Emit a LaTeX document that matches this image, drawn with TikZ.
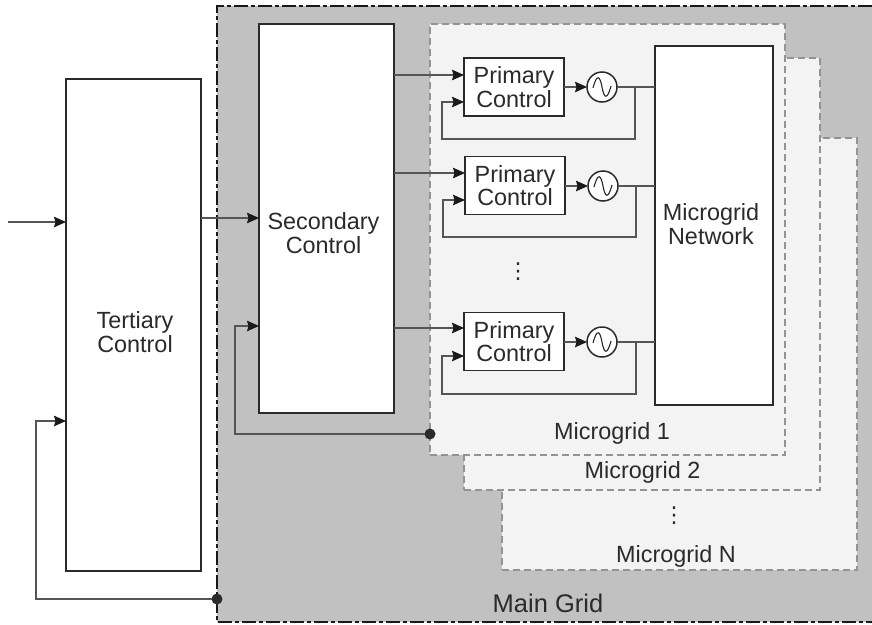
\documentclass[tikz,border=0pt]{standalone}
\usepackage{fontspec}
\setmainfont{Liberation Sans}
\newfontfamily\symfont{DejaVu Sans}
\usetikzlibrary{arrows.meta,calc}
\definecolor{gridgrey}{HTML}{C1C1C1}
\definecolor{mgfill}{HTML}{F3F3F3}
\definecolor{ink}{HTML}{2A2A2A}
\definecolor{wire}{HTML}{555555}
\definecolor{tipc}{HTML}{1A1A1A}
\tikzset{
  every node/.style={outer sep=0pt,inner sep=0pt,text=ink},
  lab/.style={font=\fontsize{23.4}{23.5}\selectfont,align=center},
  block/.style={draw=ink,line width=1.8pt,fill=white,lab},
  microgrid/.style={draw=gray!85,line width=1.2pt,dash pattern=on 7pt off 4pt,fill=mgfill},
  wirel/.style={draw=wire,line width=1.3pt},
  arr/.style={wirel,-{Stealth[inset=1.5pt,length=12pt,width=10.5pt,color=tipc]}},
  source/.style={circle,draw=ink,line width=1.5pt,fill=white,minimum size=30pt},
  dotn/.style={circle,fill=ink,minimum size=11pt},
  gridline/.style={draw=black!90,line width=2.4pt,dash pattern=on 14pt off 3pt on 4pt off 3pt},
  vd/.style={font=\symfont\fontsize{22}{22}\selectfont},
}
\newcommand{\wave}[1]{\draw[ink,line width=1.1pt] ($(#1)+(-9,1)$) .. controls ($(#1)+(-5,-14)$) and ($(#1)+(-2,-11)$) .. ($(#1)+(0,0)$) .. controls ($(#1)+(2,11)$) and ($(#1)+(5,14)$) .. ($(#1)+(9,-1)$);}
\begin{document}
\begin{tikzpicture}[x=1pt,y=-1pt]
\useasboundingbox (0,0) rectangle (872,624);
% main grid
\fill[gridgrey] (217,6) rectangle (872,622);
\coordinate (gridtl) at (872,6);
\coordinate (gridbl) at (217,622);
\draw[gridline] (gridtl) -- (217,6) -- (gridbl) -- (872,622);
% microgrids
\node[microgrid,minimum width=355pt,minimum height=432pt] (mgN) at (679.5,354) {};
\node[microgrid,minimum width=356pt,minimum height=432pt] (mg2) at (642,274) {};
\node[microgrid,minimum width=355pt,minimum height=431pt] (mg1) at (607.5,239.5) {};
% main blocks
\node[block,minimum width=135pt,minimum height=492pt] (ter) at (133.5,325) {};
\node[lab] (tertext) at (135,332) {Tertiary\\Control};
\node[block,minimum width=135pt,minimum height=389pt] (sec) at (326.5,218.5) {};
\node[lab] (sectext) at (323.5,233) {Secondary\\Control};
\node[block,minimum width=118pt,minimum height=359pt] (net) at (714,225.5) {};
\node[lab] (nettext) at (711,224) {Microgrid\\Network};
% primary controls
\node[block,minimum width=100pt,minimum height=58pt] (p1) at (514,87) {Primary\\Control};
\node[block,minimum width=100pt,minimum height=58pt] (p2) at (515,185.5) {Primary\\Control};
\node[block,minimum width=100pt,minimum height=58pt] (p3) at (514,341.5) {Primary\\Control};
\node[source] (s1) at (602,87) {};
\node[source] (s2) at (603,186) {};
\node[source] (s3) at (602,342) {};
\wave{s1}\wave{s2}\wave{s3}
% primary wiring
\foreach \n/\yin/\yfb/\xl/\xr/\yb/\ys in {1/75/102/442/635/139/87,2/173/200/443/636/237/186,3/328/356/442/636/394/342}{
  \coordinate (in\n) at (p\n.west |- 0,\yin);
  \coordinate (fb\n) at (p\n.west |- 0,\yfb);
  \coordinate (j\n) at (\xr,\ys);
  \draw[arr] (sec.east |- in\n) -- (in\n);
  \draw[arr] (p\n.east |- s\n) -- (s\n.west);
  \draw[wirel] (s\n.east) -- (net.west |- s\n);
  \draw[arr] (j\n) -- (\xr,\yb) -- (\xl,\yb) -- (\xl,\yfb) -- (fb\n);
}
% tertiary / secondary wiring
\coordinate (ext) at (8,222);
\draw[arr] (ext) -- (ter.west |- ext);
\coordinate (tsin) at (259,218);
\draw[arr] (ter.east |- tsin) -- (sec.west |- tsin);
\node[dotn] (d1) at (430,434) {};
\node[dotn] (d2) at (217,599) {};
\coordinate (secfb) at (sec.west |- 0,326);
\coordinate (terfb) at (ter.west |- 0,421);
\draw[arr] (d1) -- (235,434) -- (235,326) -- (secfb);
\draw[arr] (d2) -- (36,599) -- (36,421) -- (terfb);
% labels
\node[lab] (l1) at (612,433) {Microgrid 1};
\node[lab] (l2) at (642.5,472) {Microgrid 2};
\node[lab] (lN) at (676,556) {Microgrid N};
\node[lab,font=\fontsize{25.5}{26}\selectfont] (lm) at (548,603) {Main Grid};
\node[vd] (v1) at (518,272) {⋮};
\node[vd] (v2) at (674,516) {⋮};
\end{tikzpicture}
\end{document}
